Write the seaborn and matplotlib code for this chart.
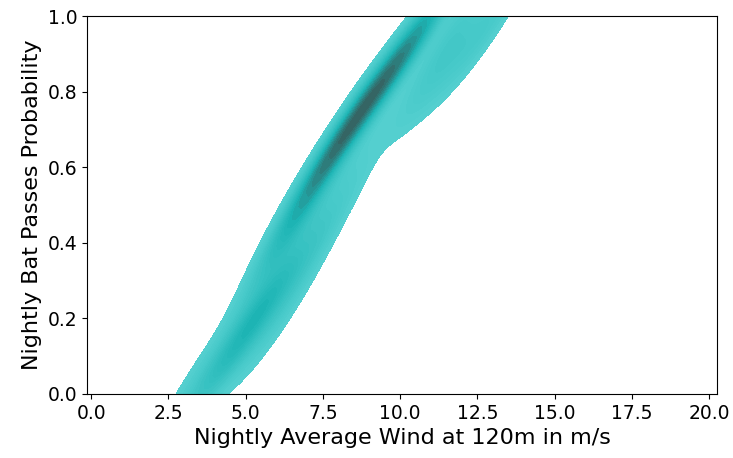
import numpy as np
import pandas as pd
import seaborn as sns
import matplotlib
matplotlib.use("Agg")
import matplotlib.pyplot as plt
from matplotlib.colors import LinearSegmentedColormap

# ridge, lower cluster, outer points, right lobe
wind = [6.3, 6.5, 6.6, 6.8, 7.0, 7.2, 7.4, 7.6, 7.8, 8.0,
        8.2, 8.4, 8.6, 8.8, 9.0, 9.2, 9.4, 9.6, 9.8, 10.0,
        10.2, 10.4, 10.6, 10.8, 11.0,
        7.1, 7.9, 8.5, 9.1, 9.7, 10.3, 8.1, 9.5,
        3.2, 3.5, 3.9, 4.3, 4.7, 5.1, 5.4, 5.7, 6.0, 5.3, 4.9, 5.8,
        5.5, 5.6, 6.0,
        7.5, 8.0, 7.0, 6.5, 7.8, 6.2,
        11.0, 11.4, 11.8, 12.3, 12.8, 13.2, 11.5, 12.0]
prob = [0.42, 0.44, 0.46, 0.49, 0.52, 0.56, 0.59, 0.62, 0.64, 0.67,
        0.70, 0.72, 0.74, 0.76, 0.78, 0.80, 0.82, 0.84, 0.86, 0.88,
        0.90, 0.93, 0.95, 0.97, 0.99,
        0.55, 0.66, 0.73, 0.79, 0.85, 0.91, 0.68, 0.83,
        0.03, 0.02, 0.05, 0.09, 0.13, 0.17, 0.20, 0.24, 0.30, 0.15, 0.18, 0.33,
        0.21, 0.22, 0.18,
        0.42, 0.52, 0.36, 0.27, 0.55, 0.36,
        0.85, 0.87, 0.90, 0.93, 0.97, 1.00, 0.95, 0.99]

df = pd.DataFrame({"wind": wind, "prob": prob})

cmap = LinearSegmentedColormap.from_list("tealdark", ["#55d0d0", "#1cb4b4", "#37605f"])

fig, ax = plt.subplots(figsize=(7.33, 4.58), dpi=100)
sns.kdeplot(data=df, x="wind", y="prob", fill=True, cmap=cmap, levels=25,
            thresh=0.05, bw_adjust=0.85, ax=ax)
ax.set_xlim(-0.13, 20.25)
ax.set_ylim(0, 1)
ax.set_xticks(np.arange(0, 20.1, 2.5))
ax.set_xlabel("Nightly Average Wind at 120m in m/s", fontsize=16)
ax.set_ylabel("Nightly Bat Passes Probability", fontsize=16)
ax.tick_params(labelsize=13.5)
fig.subplots_adjust(left=0.119, right=0.978, top=0.965, bottom=0.14)
fig.savefig("out.png", dpi=100)
